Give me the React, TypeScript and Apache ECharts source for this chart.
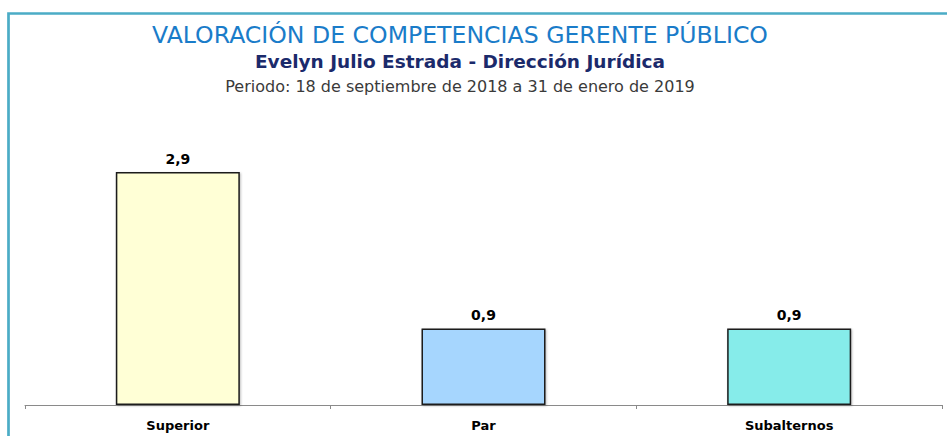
import React, { useEffect, useRef } from "react";
import * as echarts from "echarts";

const categories = ["Superior", "Par", "Subalternos"];
const values = [2.86, 0.94, 0.94];
const barColors = ["#FFFFD6", "#A6D6FE", "#86ECEA"];
const titleText = "VALORACIÓN DE COMPETENCIAS GERENTE PÚBLICO";
const subtitleText = "Evelyn Julio Estrada - Dirección Jurídica";
const periodText = "Periodo: 18 de septiembre de 2018 a 31 de enero de 2019";

const FONT = "'Century Gothic', 'DejaVu Sans', sans-serif";

export default function App() {
  const ref = useRef<HTMLDivElement>(null);
  useEffect(() => {
    if (!ref.current) return;
    const chart = echarts.init(ref.current, undefined, { renderer: "svg" });
    chart.setOption({
      animation: false,
      backgroundColor: "#ffffff",
      grid: { left: 25, right: 5, top: 120, bottom: 31, containLabel: false },
      xAxis: {
        type: "category",
        data: categories,
        axisLine: { lineStyle: { color: "#8A8A8A", width: 1 } },
        axisTick: { show: true, length: 4, lineStyle: { color: "#8A8A8A" } },
        axisLabel: {
          color: "#000000",
          fontFamily: FONT,
          fontWeight: "bold",
          fontSize: 13,
          margin: 14,
        },
      },
      yAxis: {
        type: "value",
        min: 0,
        max: 3.5,
        show: false,
        splitLine: { show: false },
      },
      series: [
        {
          type: "bar",
          barWidth: 124,
          data: values.map((v, i) => ({
            value: v,
            itemStyle: { color: barColors[i] },
          })),
          itemStyle: {
            borderColor: "#1A1A1A",
            borderWidth: 1.5,
            shadowColor: "rgba(0,0,0,0.25)",
            shadowBlur: 2,
            shadowOffsetX: 1,
            shadowOffsetY: 1,
          },
          label: {
            show: true,
            position: "top",
            distance: 6,
            color: "#000000",
            fontFamily: FONT,
            fontWeight: "bold",
            fontSize: 14,
            formatter: (p: any) => p.value.toFixed(1).replace(".", ","),
          },
        },
      ],
      graphic: [
        {
          type: "rect",
          shape: { x: 8.5, y: 13.5, width: 1000, height: 500 },
          style: { fill: "none", stroke: "#4BACC6", lineWidth: 2.7 },
          silent: true,
        },
        {
          type: "text",
          style: {
            x: 460,
            y: 34.5,
            text: titleText,
            textAlign: "center",
            textVerticalAlign: "middle",
            fill: "#1A7CC9",
            font: `23.6px ${FONT}`,
          },
        },
        {
          type: "text",
          style: {
            x: 460,
            y: 61,
            text: subtitleText,
            textAlign: "center",
            textVerticalAlign: "middle",
            fill: "#1B2A6B",
            font: `bold 18.5px ${FONT}`,
          },
        },
        {
          type: "text",
          style: {
            x: 460,
            y: 86.5,
            text: periodText,
            textAlign: "center",
            textVerticalAlign: "middle",
            fill: "#3A3A3A",
            font: `16px ${FONT}`,
          },
        },
      ],
    });
    return () => chart.dispose();
  }, []);
  return (
    <div
      ref={ref}
      style={{ position: "fixed", left: 0, top: 0, width: 947, height: 436 }}
    />
  );
}
